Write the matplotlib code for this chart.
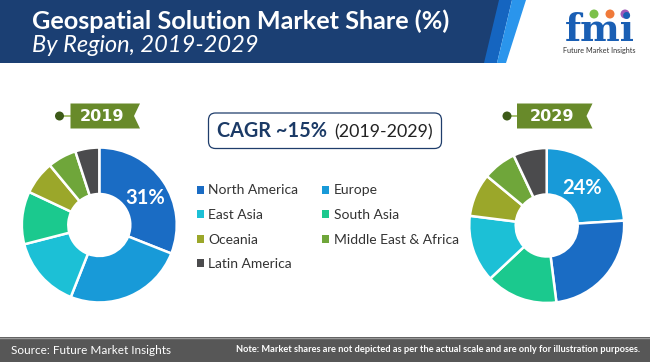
import matplotlib
matplotlib.use("Agg")
import matplotlib.pyplot as plt
from matplotlib.patches import Polygon, Rectangle, FancyBboxPatch, Circle

# ---------------- data ----------------
regions = ["North America", "Europe", "East Asia", "South Asia",
           "Oceania", "Middle East & Africa", "Latin America"]
colors = {"North America": "#1a6cc4", "Europe": "#189ad8", "East Asia": "#1cc0d6",
          "South Asia": "#1bc98e", "Oceania": "#9ba72a",
          "Middle East & Africa": "#6fa63a", "Latin America": "#4b4b4d"}
order_2019 = ["North America", "Europe", "East Asia", "South Asia",
              "Oceania", "Middle East & Africa", "Latin America"]
share_2019 = [31, 25, 15, 11, 7, 6, 5]
order_2029 = ["Europe", "North America", "South Asia", "East Asia",
              "Oceania", "Middle East & Africa", "Latin America"]
share_2029 = [24, 24, 15, 14, 9, 7, 7]
label_2019 = "31%"
label_2029 = "24%"
title = "Geospatial Solution Market Share (%)"
subtitle = "By Region, 2019-2029"
cagr_main = "CAGR ~15%"
cagr_sub = "(2019-2029)"
source = "Source: Future Market Insights"
note = "Note: Market shares are not depicted as per the actual scale and are only for illustration purposes."

FONT = ["Lato", "DejaVu Sans"]
plt.rcParams["font.family"] = FONT

W, H = 650, 362
fig = plt.figure(figsize=(W / 100, H / 100), dpi=100)
bg = fig.add_axes([0, 0, 1, 1])
bg.set_xlim(0, W)
bg.set_ylim(H, 0)
bg.axis("off")
bg.set_zorder(0)

# ---------------- header ----------------
bg.add_patch(Polygon([(0, 0), (512, 0), (497, 63), (0, 63)], closed=True,
                     facecolor="#1565c0", edgecolor="none"))
bg.add_patch(Polygon([(512, 0), (526, 0), (506, 63), (497, 63)], closed=True,
                     facecolor="#2a95ec", edgecolor="none"))
bg.add_patch(Polygon([(0, 0), (499, 0), (484, 63), (0, 63)], closed=True,
                     facecolor="#1b3f73", edgecolor="none"))
bg.text(32, 21, title, color="white", fontsize=18.2, fontweight="bold",
        va="center", ha="left")
bg.text(32, 46, subtitle, color="white", fontsize=17, fontstyle="italic",
        va="center", ha="left")

# logo
bg.text(600, 41, "fmi", color="#1a5fb4", fontsize=27, fontweight="bold",
        family=["DejaVu Serif"], ha="center", va="baseline")
for cx, cc in [(594, "#7cc04a"), (610, "#f07a3a"), (625, "#a05ab8")]:
    bg.add_patch(Circle((cx, 14), 4.5, facecolor=cc, edgecolor="none"))
bg.text(599, 51, "Future Market Insights", color="#333333", fontsize=5.2,
        ha="center", va="center")

# ---------------- badges ----------------
def badge(x0, x1, text, dotx):
    y0, y1 = 103.5, 128.5
    ym = (y0 + y1) / 2
    bg.plot([dotx, x0], [ym, ym], color="#9ab85a", lw=1.2, zorder=1)
    bg.add_patch(Circle((dotx, ym), 4.5, facecolor="#3d5a18", edgecolor="none", zorder=2))
    bg.add_patch(Polygon([(x0, y0), (x1, y0), (x1 - 6, ym), (x1, y1), (x0, y1)],
                         closed=True, facecolor="#688a2a", edgecolor="none", zorder=2))
    bg.text((x0 + x1 - 6) / 2, ym + 0.5, text, color="white", fontsize=11.5,
            fontweight="bold", family=["DejaVu Sans"],
            ha="center", va="center", zorder=3)

badge(70.5, 140, "2019", 59.5)
badge(517, 592.5, "2029", 507)

# ---------------- CAGR box ----------------
bg.add_patch(FancyBboxPatch((213, 117.5), 224, 26.5,
                            boxstyle="round,pad=4.5,rounding_size=7",
                            facecolor="white", edgecolor="#1f3d6b", lw=0.9))
bg.text(217, 137, cagr_main, color="#1b3a66", fontsize=14.3, fontweight="bold",
        ha="left", va="baseline")
bg.text(334, 137, cagr_sub, color="#222222", fontsize=12.9,
        ha="left", va="baseline")

# ---------------- donuts ----------------
def donut(cx, cy, r, order, shares, label, lab_xy):
    ax = fig.add_axes([(cx - r) / W, (H - cy - r) / H, 2 * r / W, 2 * r / H])
    ax.set_zorder(1)
    wedges, _ = ax.pie(shares, colors=[colors[k] for k in order], startangle=90,
                       counterclock=False, radius=1,
                       wedgeprops=dict(width=0.6, edgecolor="white", linewidth=1.8))
    ax.set_xlim(-1.02, 1.02)
    ax.set_ylim(-1.02, 1.02)
    ax.set_aspect("equal")
    ax.axis("off")
    ax.text(lab_xy[0], lab_xy[1], label, color="white", fontsize=14.5,
            fontweight="bold", ha="center", va="center", zorder=5,
            transform=bg.transData, clip_on=False)
    return dict(zip(order, wedges))

w19 = donut(99.3, 225, 79, order_2019, share_2019, label_2019, (145, 198))
donut(546.7, 225.5, 79, order_2029, share_2029, label_2029, (582, 188))

# ---------------- legend ----------------
leg_order = ["North America", "East Asia", "Oceania", "Latin America",
             "Europe", "South Asia", "Middle East & Africa"]
leg = fig.legend([w19[k] for k in leg_order], leg_order, ncol=2,
                 loc="upper left", bbox_to_anchor=(197 / W, 1 - 184.5 / H),
                 frameon=False, fontsize=10, handlelength=0.5, handleheight=0.5,
                 handletextpad=0.3, columnspacing=1.75, labelspacing=0.9,
                 borderaxespad=0, borderpad=0)
for t in leg.get_texts():
    t.set_color("#333333")
for h in leg.legend_handles:
    h.set_edgecolor("none")

# ---------------- footer ----------------
bg.add_patch(Rectangle((0, 337), W, 25, facecolor="#575757", edgecolor="none"))
bg.plot([0, W], [337.5, 337.5], color="#9a9a9a", lw=1)
bg.text(11, 350, source, color="white", fontsize=8.5, ha="left", va="center")
bg.text(640, 350, note, color="white", fontsize=6.7, fontweight="bold",
        ha="right", va="center")

fig.savefig("out.png", dpi=100)
